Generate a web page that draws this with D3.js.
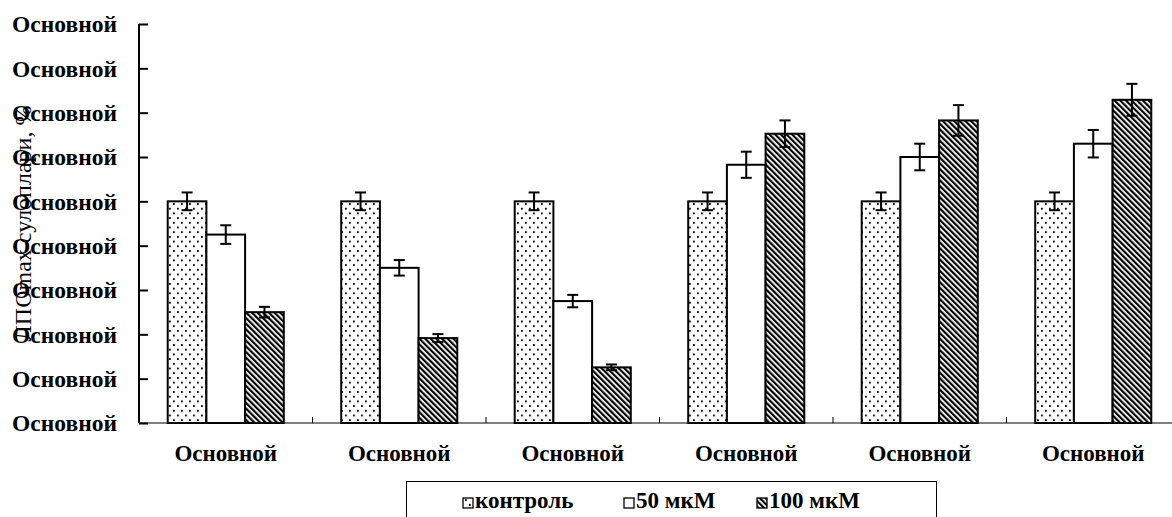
<!DOCTYPE html>
<html><head><meta charset="utf-8">
<script src="https://cdn.jsdelivr.net/npm/d3@7/dist/d3.min.js"></script>
<style>body{margin:0;background:#fff}svg{display:block}</style>
</head><body>
<svg id="c" width="1172" height="517"></svg>
<script>
const categories = ["Основной","Основной","Основной","Основной","Основной","Основной"];
const seriesNames = ["контроль","50 мкМ","100 мкМ"];
const control = [100,100,100,100,100,100];
const controlErr = [4,4,4,4,4,4];
const m50 = [85,70,55,116.5,120,126];
const m50Err = [4.2,3.5,2.8,5.9,6,6.2];
const m100 = [50,38.3,25.1,130.5,136.5,145.8];
const m100Err = [2.4,1.8,1.3,6.0,6.9,7.2];
const yTicks = [0,20,40,60,80,100,120,140,160,180];
const yTickLabels = ["Основной","Основной","Основной","Основной","Основной","Основной","Основной","Основной","Основной","Основной"];
const yTitle = "ЛПОmax сулоплари, %";

const values = [control, m50, m100];
const errs = [controlErr, m50Err, m100Err];

const svg = d3.select("#c");
const font = "'Liberation Serif','Times New Roman',serif";
const defs = svg.append("defs");
const dots = defs.append("pattern").attr("id","dots").attr("patternUnits","userSpaceOnUse")
  .attr("width",8).attr("height",9.4);
dots.append("rect").attr("width",8).attr("height",9.4).attr("fill","#fff");
dots.append("rect").attr("x",1).attr("y",1).attr("width",1.8).attr("height",1.8).attr("fill","#000");
dots.append("rect").attr("x",5).attr("y",5.7).attr("width",1.8).attr("height",1.8).attr("fill","#000");
const hatch = defs.append("pattern").attr("id","hatch").attr("patternUnits","userSpaceOnUse")
  .attr("width",4).attr("height",4).attr("patternTransform","rotate(-45)");
hatch.append("rect").attr("width",4).attr("height",4).attr("fill","#fff");
hatch.append("rect").attr("x",0).attr("y",0).attr("width",2.2).attr("height",4).attr("fill","#000");
const fills = ["url(#dots)","#fff","url(#hatch)"];

const x0 = 139, x1 = 1180, yB = 423, yT = 24;
const x = d3.scaleBand().domain(d3.range(categories.length)).range([x0,x1]).paddingInner(0.331).paddingOuter(0.1655);
const xs = d3.scaleBand().domain(d3.range(seriesNames.length)).range([0,x.bandwidth()]);
const y = d3.scaleLinear().domain([0,180]).range([yB,yT]);

svg.append("text").attr("transform",`translate(23,${(yB+yT)/2}) rotate(-90)`)
  .attr("text-anchor","middle").attr("dominant-baseline","central")
  .attr("font-family",font).attr("font-size",24).text(yTitle);

categories.forEach((c,i)=>{
  values.forEach((vals,s)=>{
    svg.append("rect").attr("x",x(i)+xs(s)).attr("y",y(vals[i]))
      .attr("width",xs.bandwidth()).attr("height",yB-y(vals[i]))
      .attr("fill",fills[s]).attr("stroke","#000").attr("stroke-width",2);
  });
});
categories.forEach((c,i)=>{
  values.forEach((vals,s)=>{
    const cx = x(i)+xs(s)+xs.bandwidth()/2;
    const v = vals[i], e = errs[s][i];
    const g = svg.append("g").attr("stroke","#000").attr("stroke-width",2);
    g.append("line").attr("x1",cx).attr("x2",cx).attr("y1",y(v+e)).attr("y2",y(v-e));
    g.append("line").attr("x1",cx-5.5).attr("x2",cx+5.5).attr("y1",y(v+e)).attr("y2",y(v+e));
    g.append("line").attr("x1",cx-5.5).attr("x2",cx+5.5).attr("y1",y(v-e)).attr("y2",y(v-e));
  });
});

svg.append("line").attr("x1",x0).attr("x2",x1).attr("y1",yB).attr("y2",yB).attr("stroke","#808080").attr("stroke-width",2);
categories.forEach((c,i)=>{
  svg.append("line").attr("x1",x(i)-1).attr("x2",x(i)+x.bandwidth()+1).attr("y1",yB).attr("y2",yB).attr("stroke","#000").attr("stroke-width",2);
});
const step = x.step();
d3.range(1,categories.length+1).forEach(k=>{
  svg.append("line").attr("x1",x0+k*step).attr("x2",x0+k*step).attr("y1",yB).attr("y2",yB-6).attr("stroke","#000").attr("stroke-width",1);
});
svg.append("g").selectAll("text").data(categories).join("text")
  .attr("x",(d,i)=>x(i)+x.bandwidth()/2).attr("y",461)
  .attr("text-anchor","middle").attr("font-family",font).attr("font-weight","bold").attr("font-size",23).text(d=>d);

const yAxis = d3.axisRight(y).tickValues(yTicks).tickSize(9).tickFormat("");
const ga = svg.append("g").attr("transform",`translate(${x0},0)`).call(yAxis);
ga.select(".domain").attr("stroke","#000").attr("stroke-width",2).attr("d",`M0,${yT}V${yB}`);
ga.selectAll(".tick line").attr("stroke","#000").attr("stroke-width",2);
svg.append("g").selectAll("text").data(yTicks).join("text")
  .attr("x",117).attr("y",d=>y(d)).attr("dy","0.35em").attr("text-anchor","end")
  .attr("font-family",font).attr("font-weight","bold").attr("font-size",23.5).text((d,i)=>yTickLabels[i]);

svg.append("rect").attr("x",406.5).attr("y",481.5).attr("width",530).attr("height",60).attr("fill","#fff").attr("stroke","#000").attr("stroke-width",1);
const legX = [463,624,757];
seriesNames.forEach((n,s)=>{
  svg.append("rect").attr("x",legX[s]).attr("y",498).attr("width",10).attr("height",10)
    .attr("fill",fills[s]).attr("stroke","#000").attr("stroke-width",1.3);
  svg.append("text").attr("x",legX[s]+12).attr("y",508).attr("font-family",font).attr("font-weight","bold").attr("font-size",23).text(n);
});
</script>
</body></html>
